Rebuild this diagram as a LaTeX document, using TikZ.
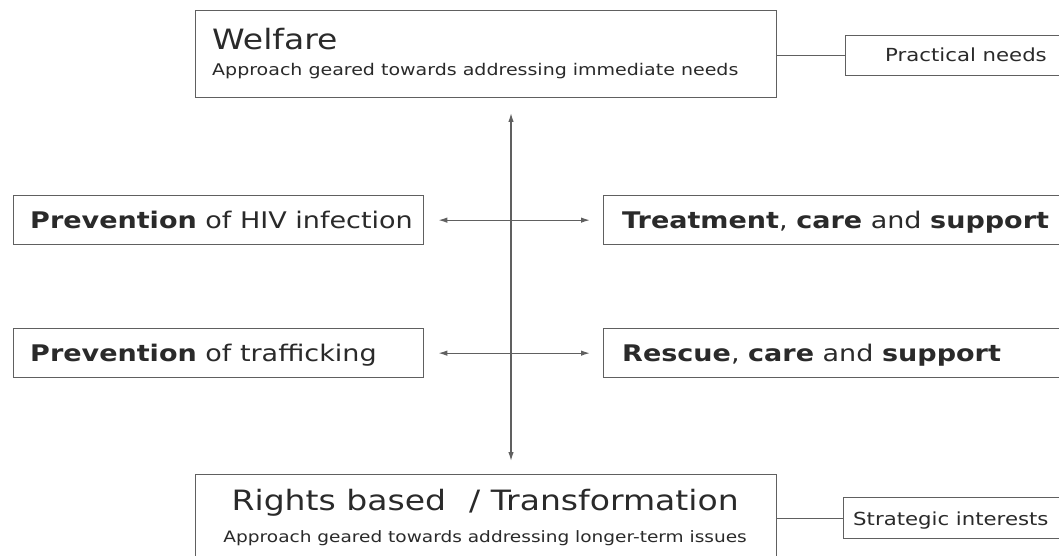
\documentclass[tikz,border=0pt]{standalone}
\usepackage{fontspec}
\setmainfont{DejaVu Sans}[FakeStretch=1.18]
\usetikzlibrary{arrows.meta,calc}
\definecolor{linegray}{HTML}{606060}
\definecolor{inkgray}{HTML}{2A2A2A}
\begin{document}
\begin{tikzpicture}[x=1pt,y=-1pt,
  box/.style={draw=linegray, line width=1.3pt, fill=white, inner sep=0pt, anchor=north west},
  txt/.style={inner sep=0pt, anchor=base west, text=inkgray},
  ctxt/.style={inner sep=0pt, anchor=base, text=inkgray},
  link/.style={draw=linegray, line width=1.3pt},
  twoway/.style={link, {Latex[length=9pt,width=5.5pt]}-{Latex[length=9pt,width=5.5pt]}},
  titlefont/.style={font=\fontsize{28}{32}\selectfont},
  subfont/.style={font=\fontsize{15.9}{19}\selectfont},
  labelfont/.style={font=\fontsize{22.9}{26}\selectfont},
  sidefont/.style={font=\fontsize{18}{21}\selectfont},
]
\useasboundingbox (0,0) rectangle (1059,556);
\clip (0,0) rectangle (1059,556);

% approach boxes
\node[box, minimum width=581pt, minimum height=87pt] (welfare) at (195,10) {};
\node[txt, titlefont] (welfareT) at ($(welfare.north west)+(17,40)$) {Welfare};
\node[txt, subfont, font=\fontsize{16.1}{19}\selectfont] (welfareS) at ($(welfare.north west)+(17,66)$)
  {Approach geared towards addressing immediate needs};

\node[box, minimum width=581pt, minimum height=92pt] (rights) at (195,474) {};
\node[ctxt, font=\fontsize{28}{32}\selectfont] (rightsT) at ($(rights.north)+(-1,36)$)
  {Rights based\hspace{0.45em} / Transformation};
\node[ctxt, subfont, font=\fontsize{15.7}{19}\selectfont] (rightsS) at ($(rights.north)+(-1,68)$)
  {Approach geared towards addressing longer-term issues};

% side notes
\node[box, minimum width=260pt, minimum height=40pt] (practical) at (845,35) {};
\node[txt, sidefont] (practicalT) at ($(practical.north west)+(40,27)$) {Practical needs};
\node[box, minimum width=260pt, minimum height=41pt] (strategic) at (843,497) {};
\node[txt, sidefont] (strategicT) at ($(strategic.north west)+(10,28)$) {Strategic interests};

% response boxes
\node[box, minimum width=410pt, minimum height=49pt] (hiv) at (13,195) {};
\node[txt, labelfont] (hivT) at ($(hiv.north west)+(17,33)$) {\textbf{Prevention} of HIV infection};
\node[box, minimum width=410pt, minimum height=49pt] (traff) at (13,328) {};
\node[txt, labelfont] (traffT) at ($(traff.north west)+(17,33)$) {\textbf{Prevention} of trafficking};
\node[box, minimum width=480pt, minimum height=49pt] (treat) at (603,195) {};
\node[txt, labelfont] (treatT) at ($(treat.north west)+(19,33)$)
  {\textbf{Treatment}, \textbf{care} and \textbf{support}};
\node[box, minimum width=480pt, minimum height=49pt] (rescue) at (603,328) {};
\node[txt, labelfont] (rescueT) at ($(rescue.north west)+(19,33)$)
  {\textbf{Rescue}, \textbf{care} and \textbf{support}};

% connectors
\coordinate (vtop) at (511,113);
\coordinate (vbot) at (511,461);
\draw[twoway] (vtop) -- (vbot);
\draw[twoway] ([xshift=14pt]hiv.east) -- ([xshift=-13pt]treat.west);
\draw[twoway] ([xshift=14pt]traff.east) -- ([xshift=-13pt]rescue.west);
\draw[link] (welfare.east |- practical.west) -- (practical.west);
\draw[link] (rights.east |- strategic.west) -- (strategic.west);
\end{tikzpicture}
\end{document}
